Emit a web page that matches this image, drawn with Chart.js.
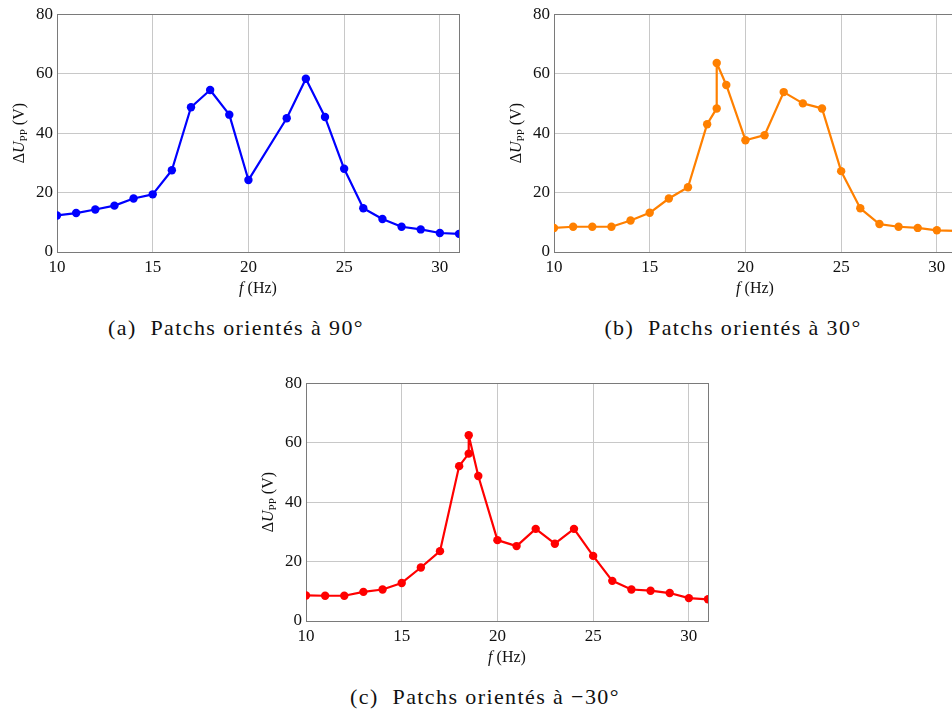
<!DOCTYPE html>
<html>
<head>
<meta charset="utf-8">
<script src="https://cdn.jsdelivr.net/npm/chart.js@4.4.1/dist/chart.umd.min.js"></script>
<style>
html, body { margin: 0; padding: 0; overflow: hidden; background: #fff; }
#page { position: relative; width: 952px; height: 716px; overflow: hidden; }
canvas { position: absolute; }
.cap { position: absolute; font-family: "Liberation Serif", "DejaVu Serif", serif; font-size: 22px; color: #111;
       letter-spacing: 1.4px; transform: translate(-50%, -50%); white-space: nowrap; }
</style>
</head>
<body>
<div id="page">
  <canvas id="chartA" width="480" height="300" style="left:0px;top:0px"></canvas>
  <canvas id="chartB" width="480" height="300" style="left:497px;top:0px"></canvas>
  <canvas id="chartC" width="480" height="300" style="left:249px;top:369px"></canvas>
  <div class="cap" style="left:236px;top:328px">(a)&nbsp; Patchs orientés à 90°</div>
  <div class="cap" style="left:733px;top:328px">(b)&nbsp; Patchs orientés à 30°</div>
  <div class="cap" style="left:485px;top:697px">(c)&nbsp; Patchs orientés à −30°</div>
</div>
<script>
// f (Hz) and peak-to-peak voltage (V) for each orientation
const freqA = [10, 11, 12, 13, 14, 15, 16, 17, 18, 19, 20, 22, 23, 24, 25, 26, 27, 28, 29, 30, 31];
const voltA = [12.3, 13.1, 14.3, 15.6, 18.0, 19.4, 27.5, 48.7, 54.5, 46.2, 24.2, 45.0, 58.3, 45.4, 28.0, 14.7, 11.1, 8.5, 7.6, 6.4, 6.1];

const freqB = [10, 11, 12, 13, 14, 15, 16, 17, 18, 18.5, 18.5, 19, 20, 21, 22, 23, 24, 25, 26, 27, 28, 29, 30, 31];
const voltB = [8.1, 8.5, 8.5, 8.5, 10.6, 13.2, 18.0, 21.8, 43.0, 48.3, 63.6, 56.2, 37.6, 39.3, 53.8, 50.0, 48.3, 27.2, 14.7, 9.4, 8.5, 8.1, 7.3, 7.1];

const freqC = [10, 11, 12, 13, 14, 15, 16, 17, 18, 18.5, 18.5, 19, 20, 21, 22, 23, 24, 25, 26, 27, 28, 29, 30, 31];
const voltC = [8.6, 8.5, 8.5, 9.8, 10.6, 12.8, 18.0, 23.5, 52.1, 56.3, 62.5, 48.8, 27.2, 25.2, 31.0, 26.0, 31.0, 21.9, 13.5, 10.6, 10.2, 9.4, 7.7, 7.3];

const xTicks = [10, 15, 20, 25, 30];
const yTicks = [0, 20, 40, 60, 80];

const serif = '"Liberation Serif", "DejaVu Serif", serif';

// frame + axis titles (ΔU_PP with subscript, italic f)
const framePlugin = {
  id: 'frame',
  beforeDatasetsDraw(chart) {
    const a = chart.chartArea, ctx = chart.ctx;
    ctx.save();
    ctx.strokeStyle = '#7a7a7a';
    ctx.lineWidth = 1;
    ctx.strokeRect(Math.round(a.left) + 0.5, Math.round(a.top) + 0.5,
                   Math.round(a.right - a.left), Math.round(a.bottom - a.top));
    ctx.restore();
  },
  afterDraw(chart) {
    const a = chart.chartArea, ctx = chart.ctx;
    ctx.save();
    ctx.fillStyle = '#111';
    ctx.textBaseline = 'alphabetic';

    // x title
    const xParts = [['italic 16px ' + serif, 'f', 0], ['16px ' + serif, ' (Hz)', 0]];
    drawParts(ctx, xParts, (a.left + a.right) / 2, 293);

    // y title, rotated
    ctx.translate(24, (a.top + a.bottom) / 2);
    ctx.rotate(-Math.PI / 2);
    const yParts = [['16px ' + serif, 'Δ', 0], ['italic 16px ' + serif, 'U', 0],
                    ['11px ' + serif, 'PP', 3], ['16px ' + serif, ' (V)', 0]];
    drawParts(ctx, yParts, 0, 0);
    ctx.restore();
  }
};

function drawParts(ctx, parts, cx, y) {
  let total = 0;
  parts.forEach(p => { ctx.font = p[0]; total += ctx.measureText(p[1]).width; });
  let x = cx - total / 2;
  parts.forEach(p => {
    ctx.font = p[0];
    ctx.fillText(p[1], x, y + p[2]);
    x += ctx.measureText(p[1]).width;
  });
}

function makeChart(id, freq, volt, color) {
  const ctx = document.getElementById(id).getContext('2d');
  return new Chart(ctx, {
    type: 'line',
    data: {
      datasets: [{
        data: freq.map((f, i) => ({ x: f, y: volt[i] })),
        borderColor: color,
        backgroundColor: color,
        borderWidth: 2.2,
        borderJoinStyle: 'round',
        pointRadius: 4.2,
        pointBorderWidth: 0,
        pointBackgroundColor: color,
        tension: 0,
        clip: 0
      }]
    },
    options: {
      responsive: false,
      animation: false,
      devicePixelRatio: 1,
      layout: { padding: { top: 11, right: 21, left: 0, bottom: 0 } },
      plugins: { legend: { display: false }, tooltip: { enabled: false } },
      scales: {
        x: {
          type: 'linear',
          min: 10, max: 31,
          afterBuildTicks: s => { s.ticks = xTicks.map(v => ({ value: v })); },
          afterFit: s => { s.height = 48; },
          grid: { color: '#c8c8c8', lineWidth: 1, drawTicks: false },
          border: { display: false },
          ticks: { padding: 5, color: '#111', font: { family: serif, size: 17 }, maxRotation: 0 }
        },
        y: {
          min: 0, max: 80,
          afterBuildTicks: s => { s.ticks = yTicks.map(v => ({ value: v })); },
          afterFit: s => { s.width = 57; },
          grid: { color: '#c8c8c8', lineWidth: 1, drawTicks: false },
          border: { display: false },
          ticks: { padding: 4, color: '#111', font: { family: serif, size: 17 } }
        }
      }
    },
    plugins: [framePlugin]
  });
}

makeChart('chartA', freqA, voltA, '#0000ff');
makeChart('chartB', freqB, voltB, '#ff8000');
makeChart('chartC', freqC, voltC, '#ff0000');
</script>
</body>
</html>
